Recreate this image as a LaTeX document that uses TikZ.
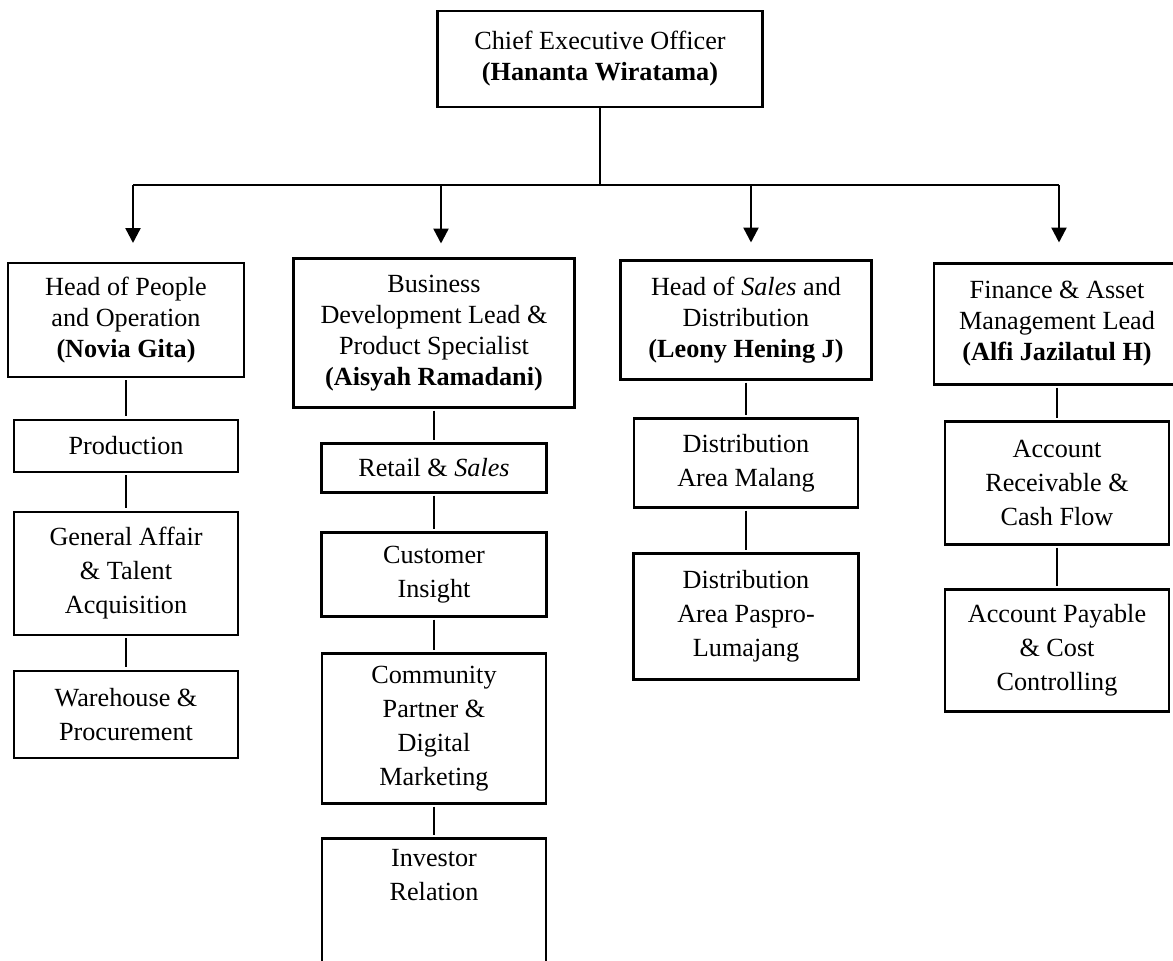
\documentclass[tikz,border=0pt]{standalone}
\usepackage{fontspec}
\setmainfont{Liberation Serif}
\usetikzlibrary{arrows.meta,positioning}

\begin{document}
\begin{tikzpicture}[
    x = 1pt, y = -1pt, % pixel units, y grows downwards
    > = {Triangle[length=15pt,width=15pt]}, % arrow head style
    node distance = 40pt, % gap between boxes of one column
    font = \fontsize{26.2}{34}\selectfont
]
\tikzstyle{unit}=[
    draw = black,
    line width = 2.8pt,
    fill = white,
    align = center,
    inner sep = 2pt,
    outer sep = 0pt
]
\tikzstyle{head}=[unit, font = \fontsize{26.2}{31}\selectfont]
\tikzstyle{link}=[line width = 1.2pt, shorten < = 3pt, shorten > = 4pt]
\tikzstyle{feed}=[->, line width = 2.4pt]

\fill[white] (0,0) rectangle (1173,961);
\useasboundingbox (0,0) rectangle (1173,961);

\node[head, minimum width=325pt, minimum height=96pt] (ceo) at (600,59)
    {Chief Executive Officer\\\textbf{(Hananta Wiratama)}};

% heads
\node[head, minimum width=236pt, minimum height=114pt] (hpo) at (126,320)
    {Head of People\\and Operation\\\textbf{(Novia Gita)}};
\node[head, minimum width=281pt, minimum height=149pt] (bd) at (434,333)
    {Business\\Development Lead \&\\Product Specialist\\\textbf{(Aisyah Ramadani)}};
\node[head, minimum width=251pt, minimum height=119pt] (hsd) at (746,320)
    {Head of \textit{Sales} and\\Distribution\\\textbf{(Leony Hening J)}};
\node[head, minimum width=246pt, minimum height=121pt] (fam) at (1057,324)
    {Finance \& Asset\\Management Lead\\\textbf{(Alfi Jazilatul H)}};

% people and operation
\node[unit, minimum width=224pt, minimum height=52pt] (prod) [below=43pt of hpo] {Production};
\node[unit, minimum width=224pt, minimum height=123pt] (ga) [below=of prod] {General Affair\\\& Talent\\Acquisition};
\node[unit, minimum width=224pt, minimum height=87pt] (wh) [below=36pt of ga] {Warehouse \&\\Procurement};

% business development
\node[unit, minimum width=225pt, minimum height=49pt] (retail) [below=36pt of bd] {Retail \& \textit{Sales}};
\node[unit, minimum width=225pt, minimum height=84pt] (ci) [below=of retail] {Customer\\Insight};
\node[unit, minimum width=224pt, minimum height=150pt] (cp) [below=37pt of ci] {Community\\Partner \&\\Digital\\Marketing};
\node[unit, minimum width=224pt, minimum height=150pt] (ir) [below=35pt of cp]
    {\parbox[c][128pt][t]{210pt}{\centering Investor\\Relation}};

% sales and distribution
\node[unit, minimum width=224pt, minimum height=89pt] (dam) [below=39pt of hsd] {Distribution\\Area Malang};
\node[unit, minimum width=225pt, minimum height=126pt] (dap) [below=46pt of dam] {Distribution\\Area Paspro-\\Lumajang};

% finance
\node[unit, minimum width=224pt, minimum height=123pt] (ar) [below=37pt of fam] {Account\\Receivable \&\\Cash Flow};
\node[unit, minimum width=224pt, minimum height=122pt] (ap) [below=45pt of ar] {Account Payable\\\& Cost\\Controlling};

\coordinate (bus) at (600,185);
\coordinate (t1) at (133,185);
\coordinate (t2) at (441,185);
\coordinate (t3) at (751,185);
\coordinate (t4) at (1059,185);

\draw[line width = 1.2pt] (ceo) -- (bus);
\draw[line width = 1.2pt] (t1) -- (t4);

\draw[feed, shorten > = 20pt] (t1) -- (t1 |- hpo.north);
\draw[feed, shorten > = 15pt] (t2) -- (t2 |- bd.north);
\draw[feed, shorten > = 18pt] (t3) -- (t3 |- hsd.north);
\draw[feed, shorten > = 21pt] (t4) -- (t4 |- fam.north);

\draw[link] (hpo) -- (prod);
\draw[link] (prod) -- (ga);
\draw[link] (ga) -- (wh);

\draw[link] (bd) -- (retail);
\draw[link] (retail) -- (ci);
\draw[link] (ci) -- (cp);
\draw[link] (cp) -- (ir);

\draw[link] (hsd) -- (dam);
\draw[link] (dam) -- (dap);

\draw[link] (fam) -- (ar);
\draw[link] (ar) -- (ap);

\end{tikzpicture}
\end{document}
